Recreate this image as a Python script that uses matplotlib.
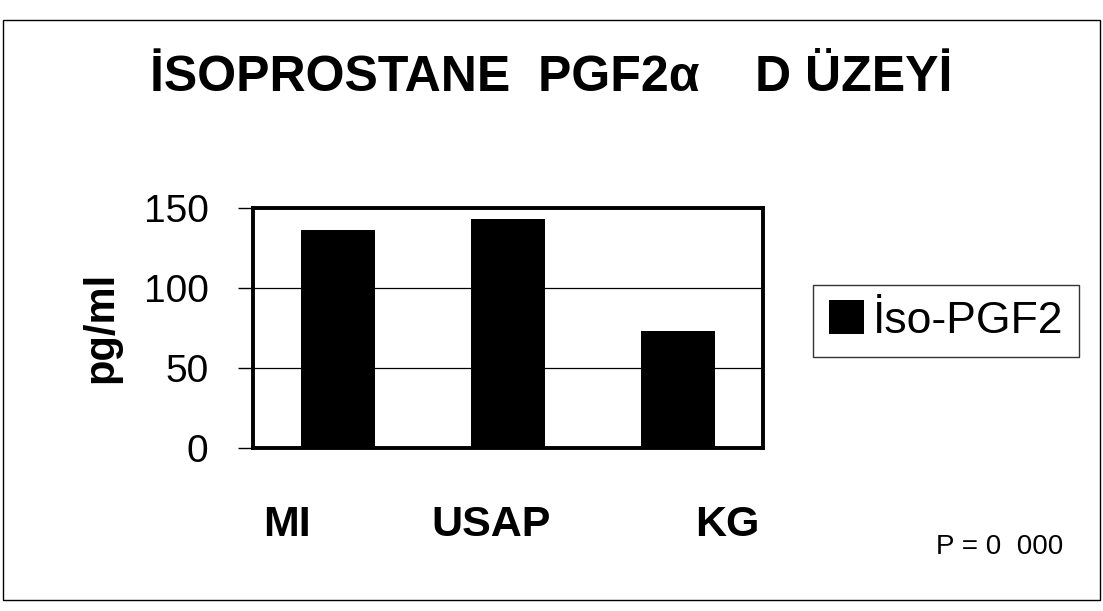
import matplotlib
matplotlib.use('Agg')
import matplotlib.pyplot as plt
from matplotlib.patches import Rectangle

# data
groups = ['MI', 'USAP', 'KG']
values = [136, 143, 73]
series_name = 'İso-PGF2'
yticks = [0, 50, 100, 150]

plt.rcParams['font.family'] = ['Liberation Sans', 'DejaVu Sans']

fig = plt.figure(figsize=(11.03, 6.11), dpi=100)
fig.patch.set_facecolor('white')

# outer frame of the scanned picture
fig.add_artist(Rectangle((0.003, 0.018), 0.994, 0.949, transform=fig.transFigure,
                         fill=False, edgecolor='black', linewidth=1.0))

ax = fig.add_axes([0.2294, 0.2668, 0.4624, 0.3928])
x = list(range(len(groups)))
ax.bar(x, values, width=0.43, color='black', label=series_name, zorder=3)

ax.set_xlim(-0.5, 2.5)
ax.set_ylim(0, 150)
ax.set_yticks(yticks)
ax.set_yticklabels([str(t) for t in yticks], fontsize=28)
ax.set_xticks([])
ax.tick_params(axis='y', direction='out', length=11, width=1, pad=21)
ax.yaxis.grid(True, color='black', linewidth=0.9, zorder=1)
for side in ['left', 'bottom', 'top', 'right']:
    ax.spines[side].set_linewidth(2.8)

# title and axis label
fig.text(0.50, 0.872, 'İSOPROSTANE  PGF2α    D ÜZEYİ', fontsize=36,
         fontweight='bold', ha='center', va='center')
fig.text(0.0916, 0.465, 'pg/ml', fontsize=30, fontweight='bold',
         rotation=90, ha='center', va='center')

# group names sit under the plot, not exactly under each bar
label_x = [287, 491, 727]
for name, px in zip(groups, label_x):
    fig.text(px / 1103, 0.141, name, fontsize=31, fontweight='bold',
             ha='center', va='center')

fig.text(1000 / 1103, 0.105, 'P = 0  000', fontsize=20, ha='center', va='center')

leg = ax.legend(loc='center left', bbox_to_anchor=(813 / 1103, 1 - 321 / 611),
                bbox_transform=fig.transFigure, fontsize=32, frameon=True,
                fancybox=False, handlelength=0.8, handleheight=0.8,
                handletextpad=0.2, borderpad=0.35, borderaxespad=0)
leg.get_frame().set_edgecolor('black')
leg.get_frame().set_linewidth(1.0)

fig.savefig('out.png', dpi=100)
